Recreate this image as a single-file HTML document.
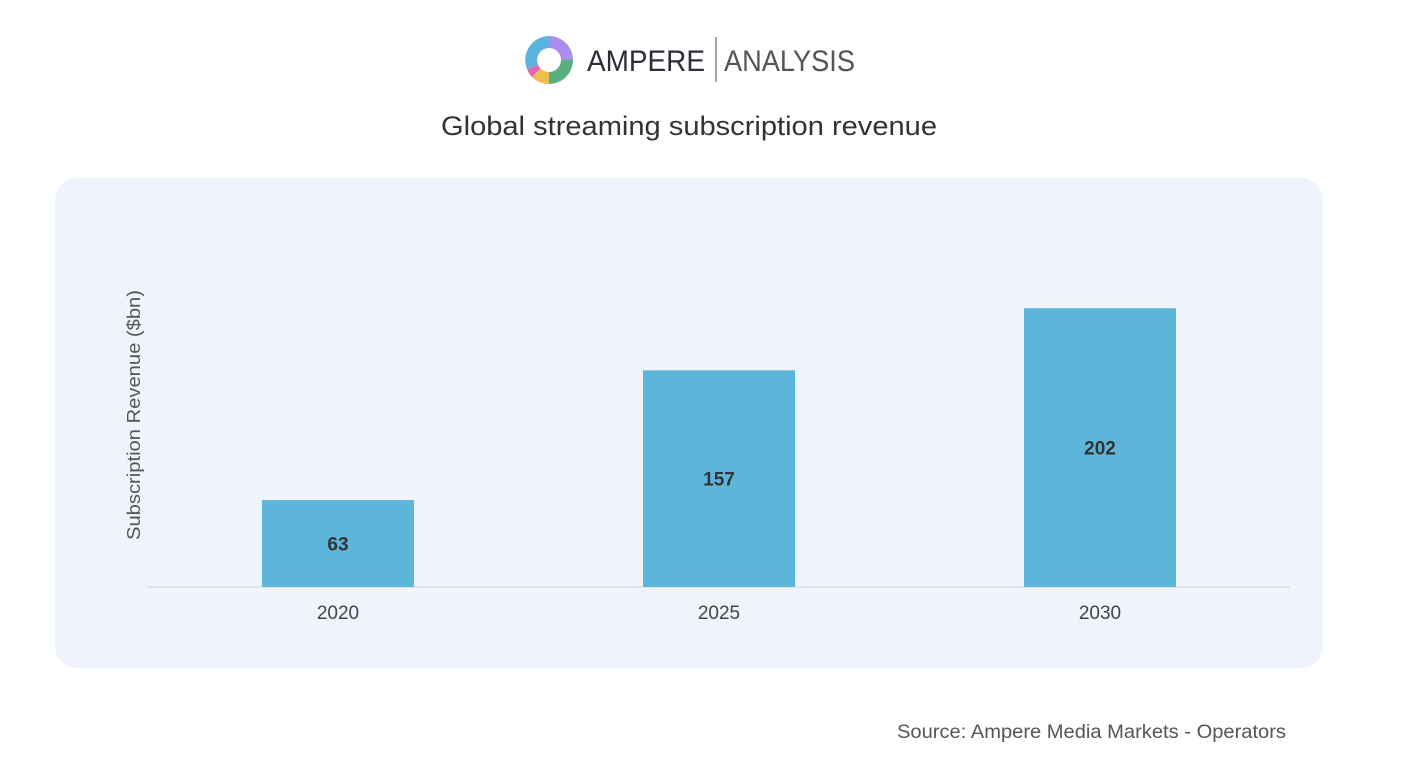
<!DOCTYPE html>
<html><head><meta charset="utf-8"><style>
body{margin:0;width:1417px;height:767px;background:#fff;font-family:"Liberation Sans",sans-serif;overflow:hidden;position:relative}
.abs{position:absolute}
</style></head><body>
<svg class="abs" style="left:0;top:0" width="1417" height="767">
  <g>
    <g transform="translate(549,60)">
      <path d="M0,-24 A24,24 0 0 1 24,0 L12,0 A12,12 0 0 0 0,-12Z" fill="#a98ef0"/>
      <path d="M24,0 A24,24 0 0 1 0,24 L0,12 A12,12 0 0 0 12,0Z" fill="#5aaf80"/>
      <path d="M0,24 A24,24 0 0 1 -17,17 L-8.5,8.5 A12,12 0 0 0 0,12Z" fill="#ecbf4e"/>
      <path d="M-17,17 A24,24 0 0 1 -22,9 L-11,4.5 A12,12 0 0 0 -8.5,8.5Z" fill="#e066b4"/>
      <path d="M-22,9 A24,24 0 0 1 0,-24 L0,-12 A12,12 0 0 0 -11,4.5Z" fill="#5bb4dd"/>
    </g>
    <text x="587" y="71" font-size="30" fill="#2d2d3a" textLength="118" lengthAdjust="spacingAndGlyphs">AMPERE</text>
    <line x1="716" y1="37" x2="716" y2="82" stroke="#888" stroke-width="1.5"/>
    <text x="724" y="71" font-size="30" fill="#555" textLength="131" lengthAdjust="spacingAndGlyphs">ANALYSIS</text>
  </g>
  <text x="441" y="135" font-size="27" fill="#333" textLength="496" lengthAdjust="spacingAndGlyphs">Global streaming subscription revenue</text>
  <rect x="55" y="178" width="1268" height="490" rx="22" fill="#eff3fb"/>
  <text transform="translate(140,540) rotate(-90)" font-size="18" fill="#555" textLength="250" lengthAdjust="spacingAndGlyphs">Subscription Revenue ($bn)</text>
  <line x1="148" y1="587" x2="1290" y2="587" stroke="#dde0e6" stroke-width="1.5"/>
  <g id="bars"></g>
  <text x="897" y="738" font-size="19" fill="#555" textLength="389" lengthAdjust="spacingAndGlyphs">Source: Ampere Media Markets - Operators</text>
</svg>
<script>
const categories=["2020","2025","2030"];
const values=[63,157,202];
const labels=["63","157","202"];
const base=587,pxPerUnit=1.38,x0=338,step=381,bw=152;
const ns="http://www.w3.org/2000/svg";
const g=document.getElementById('bars');
categories.forEach((c,i)=>{
  const cx=x0+i*step,h=values[i]*pxPerUnit;
  const r=document.createElementNS(ns,'rect');
  r.setAttribute('x',cx-bw/2);r.setAttribute('y',base-h);r.setAttribute('width',bw);r.setAttribute('height',h);r.setAttribute('fill','#5db6da');
  
  
  g.appendChild(r);
  const t=document.createElementNS(ns,'text');
  t.setAttribute('x',cx);t.setAttribute('y',base-h/2+7);t.setAttribute('text-anchor','middle');t.setAttribute('font-size','19');t.setAttribute('font-weight','bold');t.setAttribute('fill','#333');
  t.textContent=labels[i];
  
  
  g.appendChild(t);
  const xl=document.createElementNS(ns,'text');
  xl.setAttribute('x',cx);xl.setAttribute('y',619);xl.setAttribute('text-anchor','middle');xl.setAttribute('font-size','19');xl.setAttribute('fill','#444');
  xl.textContent=c;
  
  
  g.appendChild(xl);
});
</script>
</body></html>
